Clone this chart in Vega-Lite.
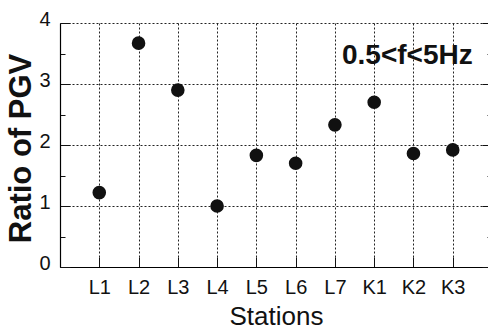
{
  "$schema": "https://vega.github.io/schema/vega-lite/v6.json",
  "width": 432,
  "height": 244,
  "autosize": {"type": "none"},
  "padding": {"left": 60, "top": 23, "right": 0, "bottom": 62},
  "background": "white",
  "config": {
    "view": {"stroke": null},
    "font": "Liberation Sans",
    "axis": {"domainColor": "#000", "domainWidth": 1.2, "tickColor": "#111", "gridColor": "#222", "gridDash": [2, 2], "gridWidth": 1, "labelColor": "#111", "titleColor": "#111"}
  },
  "resolve": {"axis": {"y": "independent"}},
  "layer": [
    {
      "data": {"values": [
        {"station": "L1", "ratio": 1.22},
        {"station": "L2", "ratio": 3.67},
        {"station": "L3", "ratio": 2.90},
        {"station": "L4", "ratio": 1.00},
        {"station": "L5", "ratio": 1.83},
        {"station": "L6", "ratio": 1.70},
        {"station": "L7", "ratio": 2.33},
        {"station": "K1", "ratio": 2.70},
        {"station": "K2", "ratio": 1.86},
        {"station": "K3", "ratio": 1.92}
      ]},
      "mark": {"type": "point", "filled": true, "size": 185, "color": "#111", "opacity": 1},
      "encoding": {
        "x": {"field": "station", "type": "ordinal", "sort": null, "scale": {"type": "point", "padding": 1},
          "axis": {"title": "Stations", "titleFontSize": 26, "titleFontWeight": "normal", "titlePadding": 6, "labelFontSize": 20, "labelAngle": 0, "tickSize": -10, "labelPadding": 20, "grid": true}},
        "y": {"field": "ratio", "type": "quantitative", "scale": {"domain": [0, 4], "nice": false, "zero": true},
          "axis": {"orient": "left", "title": "Ratio of PGV", "titleFontSize": 31, "titleFontWeight": "bold", "titleAngle": -90, "titleX": -39, "titleY": 125, "titleAlign": "center", "titleBaseline": "middle",
            "values": [0, 0.5, 1, 1.5, 2, 2.5, 3, 3.5, 4],
            "labelExpr": "datum.value % 1 === 0 ? datum.value : ''",
            "labelFontSize": 20, "labelPadding": 20, "labelOffset": -4,
            "tickSize": {"condition": {"test": "datum.value % 1 === 0", "value": -10}, "value": -5},
            "grid": true,
            "gridOpacity": {"condition": {"test": "datum.value % 1 === 0", "value": 1}, "value": 0}}}
      }
    },
    {
      "data": {"values": [{"station": "L1", "ratio": 0}]},
      "mark": {"type": "point", "opacity": 0},
      "encoding": {
        "x": {"field": "station", "type": "ordinal", "sort": null},
        "y": {"field": "ratio", "type": "quantitative",
          "axis": {"orient": "right", "title": null, "labels": false, "grid": false,
            "values": [0, 0.5, 1, 1.5, 2, 2.5, 3, 3.5, 4],
            "tickSize": {"condition": {"test": "datum.value % 1 === 0", "value": -10}, "value": -5}}}
      }
    },
    {
      "data": {"values": [{"label": "0.5<f<5Hz"}]},
      "mark": {"type": "text", "fontWeight": "bold", "fontSize": 28, "align": "right", "baseline": "middle", "dx": 20, "color": "#111"},
      "encoding": {
        "text": {"field": "label"},
        "x": {"datum": "K3"},
        "y": {"datum": 3.46, "axis": null}
      }
    }
  ]
}
